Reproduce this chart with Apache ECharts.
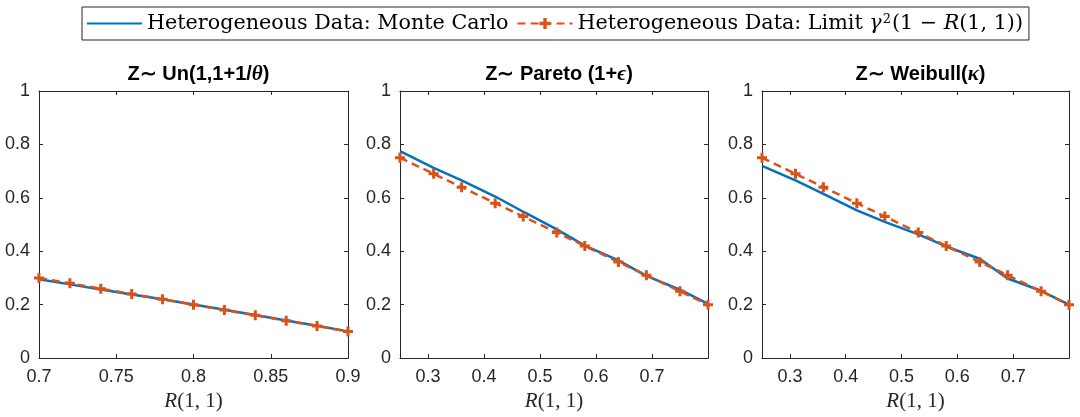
<!DOCTYPE html>
<html>
<head>
<meta charset="utf-8">
<style>
  html, body { margin: 0; padding: 0; background: #fff; }
  #chart { width: 1080px; height: 417px; }
</style>
<script src="https://cdn.jsdelivr.net/npm/echarts@6/dist/echarts.min.js"></script>
</head>
<body>
<div id="chart"></div>
<script>
// Panel 1: Z ~ Uniform
const xUniform = [0.70, 0.72, 0.74, 0.76, 0.78, 0.80, 0.82, 0.84, 0.86, 0.88, 0.90];
const mcUniform = [0.295, 0.276, 0.257, 0.238, 0.220, 0.201, 0.181, 0.161, 0.141, 0.121, 0.100];
const limUniform = [0.30, 0.28, 0.26, 0.24, 0.22, 0.20, 0.18, 0.16, 0.14, 0.12, 0.10];

// Panel 2: Z ~ Pareto
const xPareto = [0.25, 0.31, 0.36, 0.42, 0.47, 0.53, 0.58, 0.64, 0.69, 0.75, 0.80];
const mcPareto = [0.775, 0.712, 0.665, 0.605, 0.548, 0.482, 0.421, 0.366, 0.308, 0.256, 0.203];
const limPareto = [0.75, 0.69, 0.64, 0.58, 0.53, 0.47, 0.42, 0.36, 0.31, 0.25, 0.20];

// Panel 3: Z ~ Weibull
const xWeibull = [0.25, 0.31, 0.36, 0.42, 0.47, 0.53, 0.58, 0.64, 0.69, 0.75, 0.80];
const mcWeibull = [0.720, 0.665, 0.615, 0.553, 0.510, 0.463, 0.418, 0.372, 0.298, 0.252, 0.200];
const limWeibull = [0.75, 0.69, 0.64, 0.58, 0.53, 0.47, 0.42, 0.36, 0.31, 0.25, 0.20];

const xTicksWide = [0.3, 0.4, 0.5, 0.6, 0.7];

const SERIES_MC = 'Heterogeneous Data: Monte Carlo';
const SERIES_LIM = 'Heterogeneous Data: Limit';

const BLUE = '#0072BD';
const RED = '#D95319';
const AX = '#262626';
const PLUS = 'path://M3.5,0H6.5V3.5H10V6.5H6.5V10H3.5V6.5H0V3.5H3.5Z';
const SERIF = 'DejaVu Serif';

const panels = [
  { left: 39, right: 732, xs: xUniform, mc: mcUniform, lim: limUniform,
    xmin: 0.7, xmax: 0.9, interval: 0.05, custom: null,
    title: '{b|Z∼ Un(1,1+1/}{g|θ}{b|)}' },
  { left: 400, right: 372, xs: xPareto, mc: mcPareto, lim: limPareto,
    xmin: 0.25, xmax: 0.8, interval: null, custom: xTicksWide,
    title: '{b|Z∼ Pareto (1+}{g|ϵ}{b|)}' },
  { left: 762, right: 11, xs: xWeibull, mc: mcWeibull, lim: limWeibull,
    xmin: 0.25, xmax: 0.8, interval: null, custom: xTicksWide,
    title: '{b|Z∼ Weibull(}{g|κ}{b|)}' }
];

const grids = [], xAxes = [], yAxes = [], series = [], titles = [];
const TOP = 91, BOTTOM = 56;

panels.forEach((p, i) => {
  grids.push({ left: p.left, right: p.right, top: TOP, bottom: BOTTOM, containLabel: false });
  const width = 1080 - p.left - p.right;
  titles.push({
    text: p.title,
    left: p.left + width / 2,
    textAlign: 'center',
    top: 59,
    textStyle: {
      rich: {
        b: { fontFamily: 'Liberation Sans', fontWeight: 'bold', fontSize: 20, color: '#000' },
        g: { fontFamily: 'Liberation Serif', fontStyle: 'italic', fontWeight: 'bold', fontSize: 21, color: '#000' }
      }
    }
  });

  const xBase = {
    type: 'value', gridIndex: i, min: p.xmin, max: p.xmax,
    splitLine: { show: false },
    axisLine: { show: true, onZero: false, lineStyle: { color: AX, width: 1 } },
    axisTick: { show: true, inside: true, length: 4, lineStyle: { color: AX } }
  };
  if (p.interval) xBase.interval = p.interval;
  if (p.custom) xBase.axisTick.customValues = p.custom;

  const xBottom = Object.assign({}, xBase, {
    position: 'bottom',
    axisLabel: { show: true, fontFamily: 'Liberation Sans', fontSize: 18, color: AX, margin: 10,
      showMinLabel: true, showMaxLabel: true },
    name: '{i|R}{t|(1, 1)}',
    nameLocation: 'middle',
    nameGap: 31,
    nameTextStyle: {
      rich: {
        i: { fontFamily: 'Liberation Serif', fontStyle: 'italic', fontSize: 21, color: AX },
        t: { fontFamily: 'Liberation Serif', fontSize: 21, color: AX }
      }
    }
  });
  if (p.custom) xBottom.axisLabel.customValues = p.custom;
  xAxes.push(xBottom);

  xAxes.push(Object.assign({}, xBase, {
    position: 'top',
    axisLabel: { show: false },
    axisTick: Object.assign({}, xBase.axisTick)
  }));

  const yBase = {
    type: 'value', gridIndex: i, min: 0, max: 1, interval: 0.2,
    splitLine: { show: false },
    axisLine: { show: true, onZero: false, lineStyle: { color: AX, width: 1 } },
    axisTick: { show: true, inside: true, length: 4, lineStyle: { color: AX } }
  };
  yAxes.push(Object.assign({}, yBase, {
    position: 'left',
    axisLabel: { show: true, fontFamily: 'Liberation Sans', fontSize: 18, color: AX, margin: 9,
      formatter: v => String(Math.round(v * 10) / 10) }
  }));
  yAxes.push(Object.assign({}, yBase, { position: 'right', axisLabel: { show: false } }));

  series.push({
    name: SERIES_MC, type: 'line', xAxisIndex: 2 * i, yAxisIndex: 2 * i,
    data: p.xs.map((x, k) => [x, p.mc[k]]),
    showSymbol: false, symbol: 'circle',
    lineStyle: { color: BLUE, width: 2.5 },
    itemStyle: { color: BLUE, opacity: 0 },
    clip: false, z: 2, animation: false
  });
  series.push({
    name: SERIES_LIM, type: 'line', xAxisIndex: 2 * i, yAxisIndex: 2 * i,
    data: p.xs.map((x, k) => [x, p.lim[k]]),
    symbol: PLUS, symbolSize: 10, showAllSymbol: true,
    lineStyle: { color: RED, width: 2.5, type: [8, 5] },
    itemStyle: { color: RED },
    clip: false, z: 3, animation: false
  });
});

const chart = echarts.init(document.getElementById('chart'), null, { renderer: 'canvas' });
chart.setOption({
  animation: false,
  backgroundColor: '#fff',
  title: titles,
  legend: {
    data: [SERIES_MC, SERIES_LIM],
    left: 82, top: 7,
    orient: 'horizontal',
    padding: [6, 6, 6, 4],
    itemWidth: 55, itemHeight: 14, itemGap: 8,
    borderColor: AX, borderWidth: 1,
    backgroundColor: '#fff',
    selectedMode: false,
    formatter: name => name === SERIES_MC
      ? '{t|Heterogeneous Data: Monte Carlo}'
      : '{t|Heterogeneous Data: Limit }{i|γ}{s|2}{t|(1 − }{i|R}{t|(1, 1))}',
    textStyle: {
      rich: {
        t: { fontFamily: SERIF, fontSize: 20.7, color: '#000' },
        i: { fontFamily: SERIF, fontStyle: 'italic', fontSize: 20.7, color: '#000' },
        s: { fontFamily: SERIF, fontSize: 13, color: '#000', verticalAlign: 'top', padding: [0, 1, 8, 1] }
      }
    }
  },
  grid: grids,
  xAxis: xAxes,
  yAxis: yAxes,
  series: series
});
</script>
</body>
</html>
